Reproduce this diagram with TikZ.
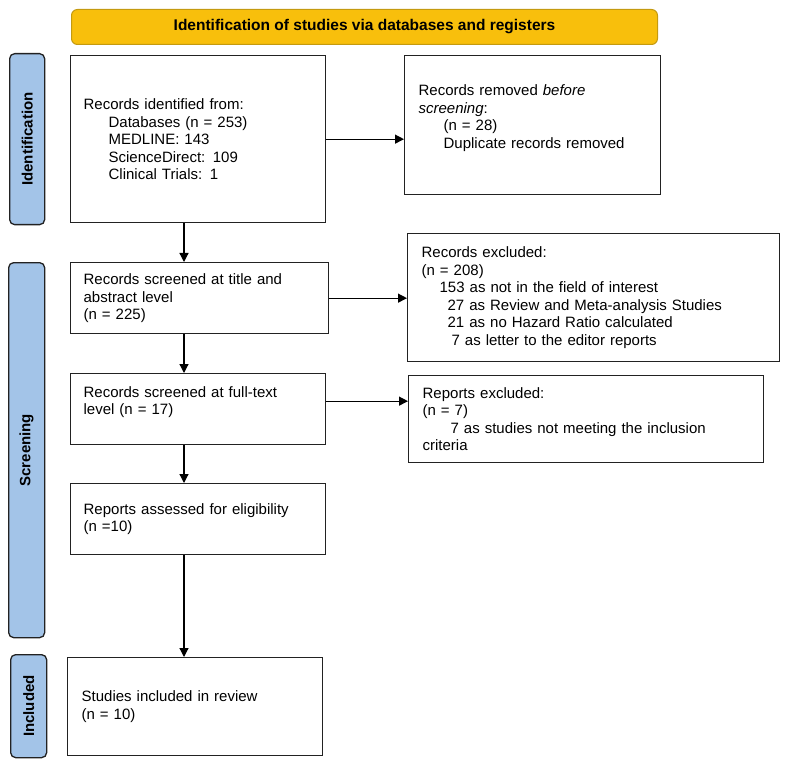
\documentclass[tikz,border=0pt]{standalone}
\usepackage{fontspec}
\setmainfont{Liberation Sans}
\usetikzlibrary{arrows.meta,calc}
\definecolor{hdrfill}{HTML}{F8BF0C}
\definecolor{hdrline}{HTML}{C49A10}
\definecolor{sideblue}{HTML}{A3C4E8}
\definecolor{lineclr}{HTML}{222222}
\begin{document}
\begin{tikzpicture}[x=1pt,y=-1pt,
  box/.style={draw=lineclr, line width=1.3pt, fill=white, anchor=north west, align=left,
    inner xsep=13pt, inner ysep=0pt, font=\fontsize{15}{17.5}\selectfont},
  sidebar/.style={draw=lineclr, line width=1.3pt, fill=sideblue, rounded corners=5pt, anchor=north west},
  sidetxt/.style={rotate=90, font=\bfseries\fontsize{15}{17}\selectfont},
  arr/.style={-{Triangle[length=9pt,width=9pt]}, line width=1.2pt, draw=black}
]
\useasboundingbox (0,0) rectangle (788,765);

% header
\node[draw=hdrline, line width=1pt, fill=hdrfill, rounded corners=6pt, anchor=north west,
  minimum width=586pt, minimum height=35pt, font=\bfseries\fontsize{15.5}{17}\selectfont]
  (hdr) at (71,9) {Identification of studies via databases and registers};

% side bars
\node[sidebar, minimum width=35pt, minimum height=171pt] (sid) at (9,53) {};
\node[sidetxt] (sidt) at (sid.center) {Identification};
\node[sidebar, minimum width=36pt, minimum height=375pt] (sscr) at (8,262) {};
\node[sidetxt] (sscrt) at (sscr.center) {Screening};
\node[sidebar, minimum width=36pt, minimum height=103pt] (sinc) at (10,654) {};
\node[sidetxt] (sinct) at (sinc.center) {Included};

% boxes
\node[box, minimum width=255pt, text width=229pt, minimum height=167pt] (b1) at (70,55)
{Records identified from:\\
\hspace*{25pt}Databases (n = 253)\\
\hspace*{25pt}MEDLINE: 143\\
\hspace*{25pt}ScienceDirect: 109\\
\hspace*{25pt}Clinical Trials: 1};

\node[box, minimum width=256pt, minimum height=139pt, inner xsep=14pt, text width=228pt] (b2) at (404,55)
{Records removed \textit{before}\\
\textit{screening}:\\
\hspace*{25pt}(n = 28)\\
\hspace*{25pt}Duplicate records removed\\
\mbox{}};

\node[box, minimum width=258pt, text width=232pt, minimum height=71pt] (s1) at (70,262)
{Records screened at title and\\
abstract level\\
(n = 225)};

\node[box, minimum width=372pt, text width=344pt, inner xsep=14pt, minimum height=128pt] (ex1) at (407,233)
{Records excluded:\\
(n = 208)\\
\hspace*{18pt}153 as not in the field of interest\\
\hspace*{26pt}27 as Review and Meta-analysis Studies\\
\hspace*{26pt}21 as no Hazard Ratio calculated\\
\hspace*{30pt}7 as letter to the editor reports};

\node[box, minimum width=255pt, text width=229pt, minimum height=71pt] (s2) at (70,373)
{Records screened at full-text\\
level (n = 17)\\
\mbox{}};

\node[box, minimum width=355pt, text width=327pt, inner xsep=14pt, minimum height=87pt] (ex2) at (408,375)
{Reports excluded:\\
(n = 7)\\
\hspace*{28pt}7 as studies not meeting the inclusion\\
criteria};

\node[box, minimum width=255pt, text width=229pt, minimum height=71pt] (el) at (70,483)
{Reports assessed for eligibility\\
(n =10)};

\node[box, minimum width=255pt, text width=227pt, inner xsep=14pt, minimum height=98pt] (inc) at (67,657)
{Studies included in review\\
(n = 10)};

% connectors
\coordinate (vx) at (184,0);
\draw[arr] (b1.south -| vx) -- (s1.north -| vx);
\draw[arr] (s1.south -| vx) -- (s2.north -| vx);
\draw[arr] (s2.south -| vx) -- (el.north -| vx);
\draw[arr] (el.south -| vx) -- (inc.north -| vx);
\draw[arr] (b1.east) -- (b1.east -| b2.west);
\draw[arr] (s1.east) -- (s1.east -| ex1.west);
\coordinate (r2) at ($(s2.east)+(0,-8)$);
\draw[arr] (r2) -- (r2 -| ex2.west);
\end{tikzpicture}
\end{document}
